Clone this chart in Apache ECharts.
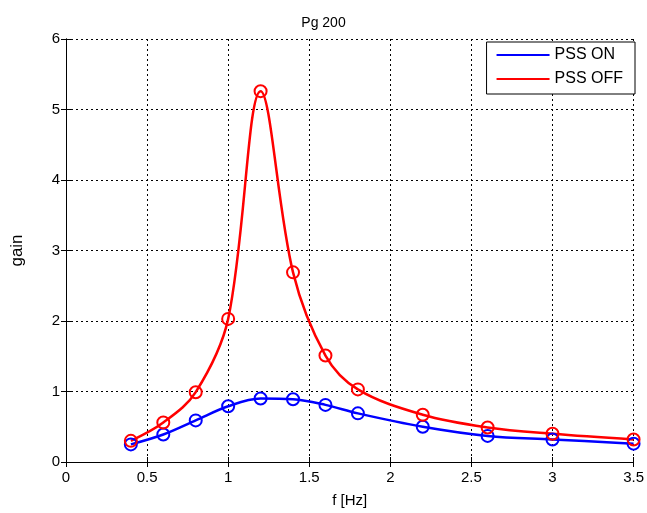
<!DOCTYPE html>
<html>
<head>
<meta charset="utf-8">
<title>Pg 200</title>
<script src="https://cdn.jsdelivr.net/npm/echarts@6/dist/echarts.min.js"></script>
<style>
  html, body { margin: 0; padding: 0; background: #fff; }
  #chart { width: 647px; height: 513px; }
</style>
</head>
<body>
<div id="chart"></div>
<script>
// frequencies of the measured points [Hz]
const freq = [0.4, 0.6, 0.8, 1.0, 1.2, 1.4, 1.6, 1.8, 2.2, 2.6, 3.0, 3.5]
// gain with stabiliser on / off
const gainOn = [0.25, 0.39, 0.59, 0.79, 0.90, 0.89, 0.81, 0.69, 0.50, 0.37, 0.32, 0.26]
const gainOff = [0.30, 0.56, 0.99, 2.03, 5.26, 2.69, 1.51, 1.03, 0.67, 0.49, 0.40, 0.32]

const FONT = '"Liberation Sans", Arial, sans-serif'
const dotted = { show: true, lineStyle: { color: '#000', type: [2, 3], width: 1 } }

function pairs(ys) {
  return freq.map((x, i) => [x, ys[i]])
}

function makeSeries(name, color, ys) {
  return {
    name: name,
    type: 'line',
    data: pairs(ys),
    smooth: 0.35,
    symbol: 'circle',
    symbolSize: 12,
    showAllSymbol: true,
    lineStyle: { color: color, width: 2.5 },
    // hollow rings, the line shows through them
    itemStyle: { color: 'transparent', borderColor: color, borderWidth: 2 },
    emphasis: { disabled: true }
  }
}

const chart = echarts.init(document.getElementById('chart'))
chart.setOption({
  animation: false,
  backgroundColor: '#fff',
  textStyle: { fontFamily: FONT },
  title: {
    text: 'Pg 200',
    left: 'center',
    top: 11,
    textStyle: { fontFamily: FONT, fontSize: 14, fontWeight: 'normal', color: '#000' }
  },
  legend: {
    right: 12,
    top: 42,
    orient: 'vertical',
    icon: 'rect',
    itemWidth: 53,
    itemHeight: 2,
    itemGap: 8,
    padding: [5, 12, 7, 10],
    borderColor: '#000',
    borderWidth: 1,
    backgroundColor: '#fff',
    textStyle: { fontFamily: FONT, fontSize: 16, lineHeight: 16, color: '#000' },
    data: [
      { name: 'PSS ON', itemStyle: { color: '#0000ff', borderWidth: 0 } },
      { name: 'PSS OFF', itemStyle: { color: '#ff0000', borderWidth: 0 } }
    ]
  },
  grid: { left: 66, right: 6, top: 39, bottom: 46, containLabel: false },
  xAxis: [{
    type: 'value',
    min: 0,
    max: 3.5,
    interval: 0.5,
    name: 'f [Hz]',
    nameLocation: 'middle',
    nameGap: 31,
    nameTextStyle: { fontFamily: FONT, fontSize: 15, color: '#000' },
    axisLine: { show: true, lineStyle: { color: '#000', width: 1 } },
    axisTick: { show: true, inside: true, length: 5, lineStyle: { color: '#000' } },
    axisLabel: { fontFamily: FONT, fontSize: 15, color: '#000', margin: 8 },
    splitLine: dotted
  }, {
    type: 'value',
    position: 'top',
    min: 0,
    max: 3.5,
    interval: 0.5,
    axisLine: { show: true, lineStyle: { color: '#000', width: 1 } },
    axisTick: { show: true, inside: true, length: 5, lineStyle: { color: '#000' } },
    axisLabel: { show: false },
    splitLine: { show: false }
  }],
  yAxis: [{
    type: 'value',
    min: 0,
    max: 6,
    interval: 1,
    name: 'gain',
    nameLocation: 'middle',
    nameGap: 40,
    nameTextStyle: { fontFamily: FONT, fontSize: 17, color: '#000' },
    axisLine: { show: true, lineStyle: { color: '#000', width: 1 } },
    axisTick: { show: true, inside: true, length: 5, lineStyle: { color: '#000' } },
    axisLabel: { fontFamily: FONT, fontSize: 15, color: '#000', margin: 6 },
    splitLine: dotted
  }, {
    type: 'value',
    position: 'right',
    min: 0,
    max: 6,
    interval: 1,
    axisLine: { show: true, lineStyle: { color: '#000', width: 1 } },
    axisTick: { show: true, inside: true, length: 5, lineStyle: { color: '#000' } },
    axisLabel: { show: false },
    splitLine: { show: false }
  }],
  series: [
    makeSeries('PSS ON', '#0000ff', gainOn),
    makeSeries('PSS OFF', '#ff0000', gainOff)
  ]
})
</script>
</body>
</html>
